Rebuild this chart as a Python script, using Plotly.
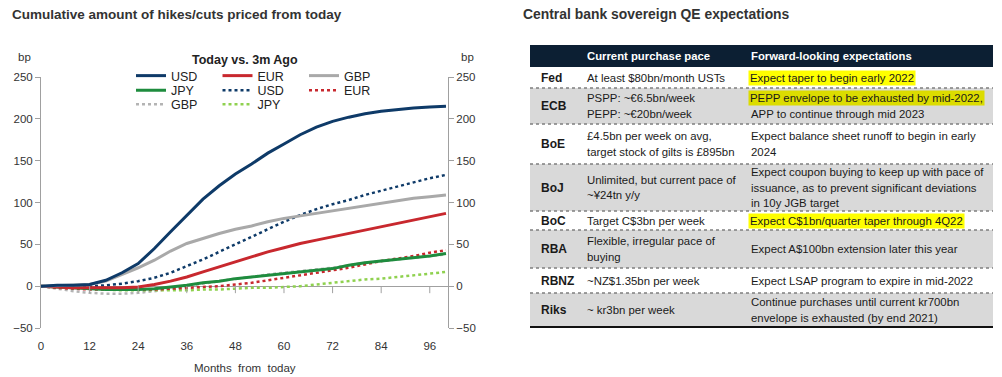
import plotly.graph_objects as go

# ---------------- data: left chart ----------------
months = [0, 4, 8, 12, 16, 20, 24, 28, 32, 36, 40, 44, 48, 52, 56, 60, 64, 68, 72, 76, 80, 84, 88, 92, 96, 100]
usd_today = [0, 1, 1, 2, 7, 16, 27, 45, 65, 85, 104, 120, 134, 146, 159, 170, 181, 190, 197, 202, 206, 209, 211, 213, 214, 215]
eur_today = [0, -1, -2, -2, -2, -2, -1, 2, 6, 11, 17, 23, 29, 35, 41, 46, 51, 55, 59, 63, 67, 71, 75, 79, 83, 87]
gbp_today = [0, 0.5, 1, 2, 6, 14, 22, 31, 42, 51, 57, 63, 68, 72, 77, 81, 84, 87, 90, 93, 96, 99, 102, 105, 107, 109]
jpy_today = [0, -1, -2, -3, -4, -4, -4, -3, -1, 1, 4, 6, 9, 11, 13, 15, 17, 19, 21, 25, 28, 30, 32, 34, 36, 39]
usd_3m = [0, 0, 0, 0, 1, 3, 6, 10, 16, 24, 32, 41, 50, 59, 68, 77, 85, 92, 98, 103, 109, 114, 119, 124, 129, 133]
eur_3m = [0, -2, -3, -4, -4, -4, -4, -4, -3, -2, -1, 0, 2, 4, 7, 10, 13, 16, 19, 22, 26, 30, 33, 36, 40, 43]
gbp_3m = [0, -3, -6, -8, -9, -9, -8, -6, -3, 0, 3, 6, 9, 11, 14, 16, 18, 20, 22, 25, 28, 30, 32, 34, 36, 38]
jpy_3m = [0, -1, -2, -3, -4, -5, -5, -5, -5, -5, -4, -4, -3, -2, -2, -1, 0, 2, 4, 6, 8, 9, 11, 13, 15, 17]

x_ticks = [0, 12, 24, 36, 48, 60, 72, 84, 96]
y_ticks = [-50, 0, 50, 100, 150, 200, 250]

# ---------------- data: right table ----------------
banks = ["Fed", "ECB", "BoE", "BoJ", "BoC", "RBA", "RBNZ", "Riks"]
pace = [
    ["At least $80bn/month USTs"],
    ["PSPP: ~€6.5bn/week", "PEPP: ~€20bn/week"],
    ["£4.5bn per week on avg,", "target stock of gilts is £895bn"],
    ["Unlimited, but current pace of", "~¥24tn y/y"],
    ["Target C$3bn per week"],
    ["Flexible, irregular pace of", "buying"],
    ["~NZ$1.35bn per week"],
    ["~ kr3bn per week"],
]
expectations = [
    ["Expect taper to begin early 2022"],
    ["PEPP envelope to be exhausted by mid-2022,", "APP to continue through mid 2023"],
    ["Expect balance sheet runoff to begin in early", "2024"],
    ["Expect coupon buying to keep up with pace of", "issuance, as to prevent significant deviations", "in 10y JGB target"],
    ["Expect C$1bn/quarter taper through 4Q22"],
    ["Expect A$100bn extension later this year"],
    ["Expect LSAP program to expire in mid-2022"],
    ["Continue purchases until current kr700bn", "envelope is exhausted (by end 2021)"],
]
highlighted = {("Fed", 0), ("ECB", 0), ("BoC", 0)}
headers = ["Current purchase pace", "Forward-looking expectations"]

# ---------------- styling / layout ----------------
W, H = 1002, 377
NAVY = "#0e3a68"
RED = "#c8282e"
GRAY = "#a9a9a9"
GREEN = "#1e8c3e"
LGREEN = "#8fd14f"
BOLDF = "Liberation Sans, Arial, sans-serif"
ARIAL = "Liberation Sans, Arial, sans-serif"

def px(x):
    return x / W

def py(y):
    return 1 - y / H

fig = go.Figure()

series = [
    ("USD", usd_today, NAVY, "solid", 3, "legend"),
    ("EUR", eur_today, RED, "solid", 3, "legend"),
    ("GBP", gbp_today, GRAY, "solid", 3, "legend"),
    ("JPY", jpy_today, GREEN, "solid", 3, "legend2"),
    ("USD", usd_3m, NAVY, "dot", 2.5, "legend2"),
    ("EUR", eur_3m, RED, "dot", 2.5, "legend2"),
    ("GBP", gbp_3m, "#b4b4b4", "dot", 2.5, "legend3"),
    ("JPY", jpy_3m, LGREEN, "dot", 2.5, "legend3"),
]
# draw order: dotted first so solid lines sit on top
order = [6, 7, 5, 4, 3, 1, 2, 0]
for i in order:
    name, vals, col, dash, wd, leg = series[i]
    fig.add_trace(go.Scatter(
        x=months, y=vals, name=name, mode="lines",
        line=dict(color=col, width=wd, dash=dash),
        legend=leg, legendrank=i, hoverinfo="skip"))

# dummy trace for the right-hand axis
fig.add_trace(go.Scatter(x=[None], y=[None], yaxis="y2", showlegend=False, hoverinfo="skip"))

x0p, x1p = 41, 448
ytop, ybot = 77, 328
axis_col = "#a0a0a0"
tick_font = dict(family=ARIAL, size=11.5, color="#333333")

fig.update_layout(
    width=W, height=H,
    margin=dict(l=0, r=0, t=0, b=0, autoexpand=False),
    paper_bgcolor="white", plot_bgcolor="white",
    font=dict(family=ARIAL, size=12, color="#222222"),
    xaxis=dict(
        domain=[px(x0p), px(x1p)], range=[0, 100.5], automargin=False,
        tickvals=x_ticks, ticks="outside", ticklen=7, tickcolor="rgba(0,0,0,0)",
        showline=False, showgrid=False, zeroline=False, tickfont=tick_font,
    ),
    yaxis=dict(
        domain=[py(ybot), py(ytop)], range=[-50, 250], automargin=False,
        tickvals=y_ticks, ticks="outside", ticklen=5, tickcolor=axis_col,
        showline=True, linecolor=axis_col, linewidth=1,
        showgrid=False, zeroline=True, zerolinecolor=axis_col, zerolinewidth=1,
        tickfont=tick_font,
    ),
    yaxis2=dict(
        overlaying="y", side="right", range=[-50, 250], automargin=False,
        tickvals=y_ticks, ticks="outside", ticklen=5, tickcolor=axis_col,
        showline=True, linecolor=axis_col, linewidth=1,
        showgrid=False, zeroline=False, tickfont=tick_font,
    ),
    showlegend=True,
)

leg_common = dict(
    orientation="h", xanchor="left", yanchor="middle",
    entrywidth=41.5, entrywidthmode="pixels",
    bgcolor="rgba(0,0,0,0)", font=dict(family=ARIAL, size=12.5, color="#222222"),
    itemclick=False, itemdoubleclick=False, traceorder="normal",
)
fig.update_layout(
    legend=dict(x=px(131), y=py(76), **leg_common),
    legend2=dict(x=px(131), y=py(90.5), **leg_common),
    legend3=dict(x=px(131), y=py(104.5), **leg_common),
)

annotations = []
shapes = []

# titles
annotations.append(dict(x=px(10), y=py(14), xref="paper", yref="paper", xanchor="left", yanchor="middle",
                        text="<b>Cumulative amount of hikes/cuts priced from today</b>", showarrow=False,
                        font=dict(family=BOLDF, size=13.5, color="#333333")))
annotations.append(dict(x=px(521), y=py(14), xref="paper", yref="paper", xanchor="left", yanchor="middle",
                        text="<b>Central bank sovereign QE expectations</b>", showarrow=False,
                        font=dict(family=BOLDF, size=13.9, color="#333333")))
annotations.append(dict(x=px(245), y=py(60), xref="paper", yref="paper", xanchor="center", yanchor="middle",
                        text="<b>Today vs. 3m Ago</b>", showarrow=False,
                        font=dict(family=BOLDF, size=12.5, color="#222222")))
annotations.append(dict(x=px(24), y=py(57), xref="paper", yref="paper", xanchor="center", yanchor="middle",
                        text="bp", showarrow=False, font=tick_font))
annotations.append(dict(x=px(467), y=py(57), xref="paper", yref="paper", xanchor="center", yanchor="middle",
                        text="bp", showarrow=False, font=tick_font))
annotations.append(dict(x=px(245), y=py(368), xref="paper", yref="paper", xanchor="center", yanchor="middle",
                        text="Months  from  today", showarrow=False, font=dict(family=ARIAL, size=11.5, color="#333333")))

# small tick marks on the zero line
for t in x_ticks[1:]:
    shapes.append(dict(type="line", xref="x", yref="y", x0=t, x1=t, y0=0, y1=-7,
                       ysizemode="pixel", yanchor=0,
                       line=dict(color=axis_col, width=1)))

# ---------------- table ----------------
tx0, tx1 = 530, 993
hdr_top, hdr_bot = 45, 67
row_heights = [21, 36, 40, 47, 19, 38, 25, 34]
shaded = {"ECB", "BoJ", "RBA", "Riks"}
col_label, col_pace, col_exp = 539, 585, 749
line_h = 15.5
tbl_font = dict(family=ARIAL, size=11.4, color="#1a1a1a")

shapes.append(dict(type="rect", xref="paper", yref="paper", x0=px(tx0), x1=px(tx1), y0=py(hdr_bot), y1=py(hdr_top),
                   fillcolor="#0c1f33", line=dict(width=0), layer="below"))
for txt, cx in zip(headers, [col_pace, col_exp]):
    annotations.append(dict(x=px(cx), y=py((hdr_top + hdr_bot) / 2), xref="paper", yref="paper",
                            xanchor="left", yanchor="middle", text="<b>" + txt + "</b>", showarrow=False,
                            font=dict(family=BOLDF, size=11.3, color="white")))

ytop_row = hdr_bot
for bank, rh, p_lines, e_lines in zip(banks, row_heights, pace, expectations):
    ybot_row = ytop_row + rh
    if bank in shaded:
        shapes.append(dict(type="rect", xref="paper", yref="paper", x0=px(tx0), x1=px(tx1),
                           y0=py(ybot_row), y1=py(ytop_row), fillcolor="#d9d9d9", line=dict(width=0), layer="below"))
    cy = (ytop_row + ybot_row) / 2
    annotations.append(dict(x=px(col_label), y=py(cy), xref="paper", yref="paper", xanchor="left", yanchor="middle",
                            text="<b>" + bank + "</b>", showarrow=False,
                            font=dict(family=BOLDF, size=12, color="#1a1a1a")))
    for lines, cx, col_key in ((p_lines, col_pace, "p"), (e_lines, col_exp, "e")):
        n = len(lines)
        for i, ln in enumerate(lines):
            ly = cy + (i - (n - 1) / 2) * line_h
            ann = dict(x=px(cx), y=py(ly), xref="paper", yref="paper", xanchor="left", yanchor="middle",
                       text=ln, showarrow=False, font=tbl_font)
            if col_key == "e" and (bank, i) in highlighted:
                ann["bgcolor"] = "#dcdc00" if bank in shaded else "#ffff00"
                ann["borderpad"] = 1
                ann["x"] = px(cx - 1)
            annotations.append(ann)
    if bank != banks[-1]:
        shapes.append(dict(type="line", xref="paper", yref="paper", x0=px(tx0), x1=px(tx1),
                           y0=py(ybot_row), y1=py(ybot_row), line=dict(color="#7f7f7f", width=1.5, dash="dot")))
    else:
        shapes.append(dict(type="line", xref="paper", yref="paper", x0=px(tx0), x1=px(tx1),
                           y0=py(ybot_row), y1=py(ybot_row), line=dict(color="#111111", width=2)))
    ytop_row = ybot_row

fig.update_layout(annotations=annotations, shapes=shapes)
fig.write_html("out.html", config={"displayModeBar": False},
               post_script="document.body.style.margin='0px';document.body.style.overflow='hidden';")
